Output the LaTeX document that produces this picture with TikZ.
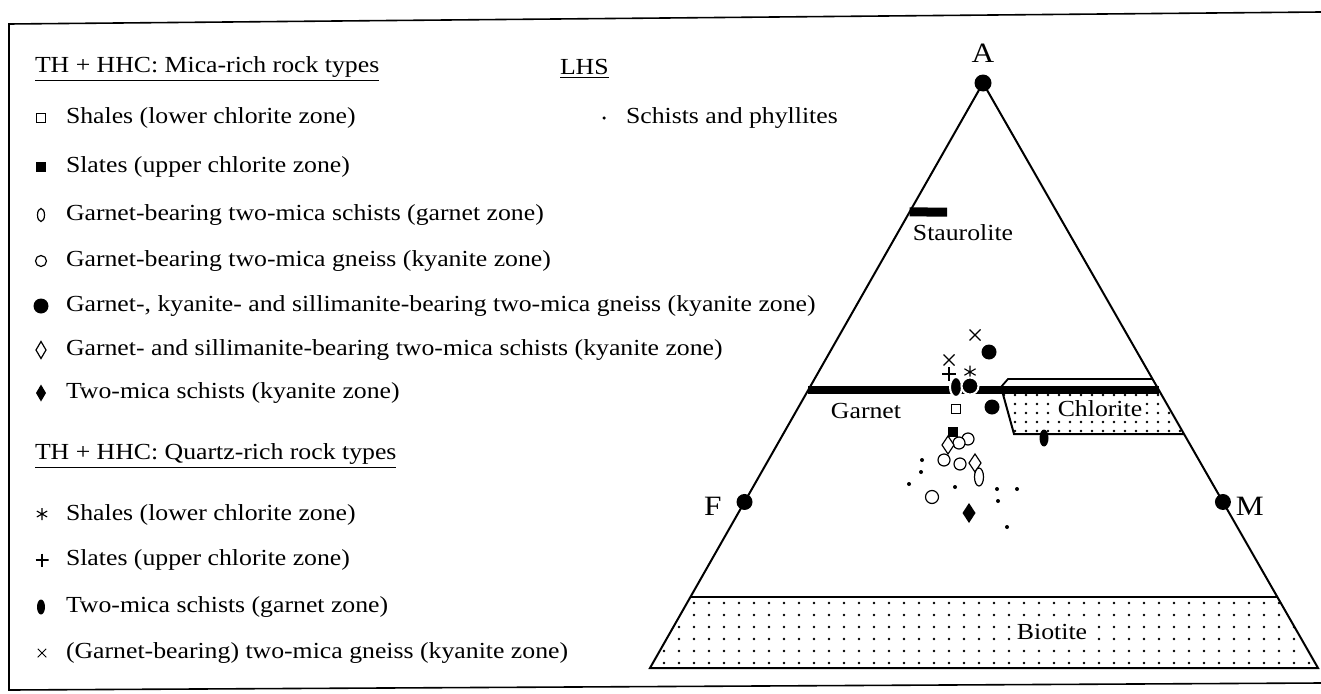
\documentclass[tikz,border=0pt]{standalone}
\usepackage{fontspec}
\setmainfont{Liberation Serif}[FakeStretch=1.12]
\usetikzlibrary{shapes.geometric,shapes.misc,calc}

\begin{document}
\begin{tikzpicture}[x=1pt, y=-1pt, font=\fontsize{23}{27}\selectfont, line join=miter,
	every node/.style={inner sep=0pt, outer sep=0pt},
	txt/.style={anchor=west},
	corner/.style={font=\fontsize{28}{30}\selectfont},
	zonelbl/.style={fill=white, inner sep=1.5pt},
	sqopen/.style={draw, rectangle, minimum size=9.5pt, line width=1pt, fill=white},
	sqfill/.style={draw, rectangle, minimum size=9.5pt, line width=1pt, fill=black},
	ellopen/.style={draw, ellipse, minimum width=7pt, minimum height=13pt, line width=1.2pt, fill=white},
	ellfill/.style={ellipse, minimum width=9pt, minimum height=17pt, fill=black},
	circopen/.style={draw, circle, minimum size=12pt, line width=1.2pt, fill=white},
	circfill/.style={circle, minimum size=15pt, fill=black},
	diaopen/.style={draw, diamond, minimum width=10pt, minimum height=17pt, line width=1.2pt, fill=white},
	diafill/.style={diamond, minimum width=11pt, minimum height=18pt, fill=black},
	halo/.style={draw=white, line width=2pt},
	tiny/.style={circle, minimum size=4pt, fill=black},
	crossm/.style={cross out, draw, line width=1.2pt, minimum size=#1},
	plusm/.style={minimum size=#1, path picture={
		\draw[line width=1.2pt] (path picture bounding box.north) -- (path picture bounding box.south)
			(path picture bounding box.west) -- (path picture bounding box.east);}},
	starm/.style={minimum size=2*#1, path picture={
		\draw[line width=1.1pt] ([shift={(90:#1)}]path picture bounding box.center) -- ([shift={(270:#1)}]path picture bounding box.center)
			([shift={(30:#1)}]path picture bounding box.center) -- ([shift={(210:#1)}]path picture bounding box.center)
			([shift={(150:#1)}]path picture bounding box.center) -- ([shift={(330:#1)}]path picture bounding box.center);}}]

	\useasboundingbox (0,0) rectangle (1321,693);

	% Rahmen
	\draw[line width=1.6pt] (1321,12) -- (9,24) -- (9,690) -- (1321,683);

	% Legende: glimmerreiche Gesteine
	\node[txt] (hdrMica) at (35,67) {TH + HHC: Mica-rich rock types};
	\draw[line width=1.2pt] ([yshift=-3pt]hdrMica.south west) -- ([yshift=-3pt]hdrMica.south east);
	\node[sqopen] (symShaleM) at (41,118) {};
	\node[txt] (txtShaleM) at (66,118) {Shales (lower chlorite zone)};
	\node[sqfill] (symSlateM) at (41,167) {};
	\node[txt] (txtSlateM) at (66,167) {Slates (upper chlorite zone)};
	\node[ellopen] (symGtSchist) at (41,215) {};
	\node[txt] (txtGtSchist) at (66,215) {Garnet-bearing two-mica schists (garnet zone)};
	\node[circopen, minimum size=11pt] (symGtGneiss) at (41,261) {};
	\node[txt] (txtGtGneiss) at (66,261) {Garnet-bearing two-mica gneiss (kyanite zone)};
	\node[circfill] (symKySil) at (41,306) {};
	\node[txt] (txtKySil) at (66,306) {Garnet-, kyanite- and sillimanite-bearing two-mica gneiss (kyanite zone)};
	\node[diaopen] (symSil) at (41,350) {};
	\node[txt] (txtSil) at (66,350) {Garnet- and sillimanite-bearing two-mica schists (kyanite zone)};
	\node[diafill, minimum width=10pt, minimum height=17pt] (symKySchist) at (41,393) {};
	\node[txt] (txtKySchist) at (66,393) {Two-mica schists (kyanite zone)};

	% Legende: quarzreiche Gesteine
	\node[txt] (hdrQtz) at (35,454) {TH + HHC: Quartz-rich rock types};
	\draw[line width=1.2pt] ([yshift=-3pt]hdrQtz.south west) -- ([yshift=-3pt]hdrQtz.south east);
	\node[starm=6pt] (symShaleQ) at (42,514) {};
	\node[txt] (txtShaleQ) at (66,515) {Shales (lower chlorite zone)};
	\node[plusm=13pt] (symSlateQ) at (42,560) {};
	\node[txt] (txtSlateQ) at (66,560) {Slates (upper chlorite zone)};
	\node[ellfill, minimum width=8pt, minimum height=15pt] (symGtSchistQ) at (41,607) {};
	\node[txt] (txtGtSchistQ) at (66,607) {Two-mica schists (garnet zone)};
	\node[crossm=8.5pt, line width=1pt] (symGneissQ) at (42,653) {};
	\node[txt] (txtGneissQ) at (66,653) {(Garnet-bearing) two-mica gneiss (kyanite zone)};

	% Legende: LHS
	\node[txt] (hdrLHS) at (560,67) {LHS};
	\draw[line width=1.2pt] ([yshift=-3pt]hdrLHS.south west) -- ([yshift=-3pt]hdrLHS.south east);
	\node[tiny, minimum size=3.5pt] (symLHS) at (604,118) {};
	\node[txt] (txtLHS) at (626,118) {Schists and phyllites};

	% Dreieck
	\coordinate (apexA) at (983,83);
	\coordinate (baseL) at (650,668);
	\coordinate (baseR) at (1318,668);

	% Biotit-Feld
	\begin{scope}
		\clip ($(apexA)!0.8786!(baseL)$) -- ($(apexA)!0.8786!(baseR)$) -- (baseR) -- (baseL) -- cycle;
		\foreach \x in {604,619,...,1330}
			\foreach \y in {603,615,...,666}
				\fill (\x,\y) circle (1.4);
	\end{scope}
	\draw[line width=2pt] ($(apexA)!0.8786!(baseL)$) -- ($(apexA)!0.8786!(baseR)$);
	\node[zonelbl] (lblBio) at (1052,632) {Biotite};

	% Chlorit-Feld
	\coordinate (chlTL) at (1001,387);
	\coordinate (chlTop) at (1008,379);
	\coordinate (chlBL) at (1014,434);
	\begin{scope}
		\clip (chlTL) -- (chlTop) -- ($(apexA)!0.506!(baseR)$) -- ($(apexA)!0.6!(baseR)$) -- (chlBL) -- cycle;
		\foreach \x in {1004,1015,...,1190}
			\foreach \y in {395,404,...,432}
				\fill (\x,\y) circle (1.3);
	\end{scope}
	\draw[line width=1.8pt] (chlTL) -- (chlTop) -- ($(apexA)!0.506!(baseR)$);
	\draw[line width=2pt] (chlTL) -- (chlBL) -- ($(apexA)!0.6!(baseR)$);
	\node[zonelbl] (lblChl) at (1100,409) {Chlorite};

	% Granat- und Staurolith-Balken
	\draw[line width=8.5pt, line cap=butt] ($(apexA)!0.5248!(baseL)$) -- ($(apexA)!0.5248!(baseR)$);
	\coordinate (stEnd) at (947,212);
	\draw[line width=9pt, line cap=butt] ($(apexA)!0.2205!(baseL)$) -- (stEnd);
	\node (lblGrt) at (866,411) {Garnet};
	\node (lblSt) at (963,233) {Staurolite};

	% Dreiecksseiten und Ecken
	\draw[line width=2pt] (apexA) -- (baseL) -- (baseR) -- cycle;
	\node[circle, fill=black, minimum size=17pt] (dotA) at (apexA) {};
	\node[circle, fill=black, minimum size=16pt] (dotF) at ($(apexA)!0.7162!(baseL)$) {};
	\node[circle, fill=black, minimum size=16pt] (dotM) at ($(apexA)!0.7162!(baseR)$) {};
	\node[corner] (lblA) at (983,53) {A};
	\node[corner, anchor=east] (lblF) at ([xshift=-15pt,yshift=-4pt]dotF.west) {F};
	\node[corner, anchor=west] (lblM) at ([xshift=5pt,yshift=-4pt]dotM.east) {M};

	% Messpunkte
	\node[crossm=11pt] (p1) at (975,335) {};
	\node[circfill] (p2) at (989,352) {};
	\node[crossm=11pt] (p3) at (949,360) {};
	\node[plusm=14pt] (p4) at (949,374) {};
	\node[starm=6.5pt] (p5) at (970,372) {};
	\node[ellfill, halo, minimum width=12pt, minimum height=20pt, fill=black] (p6) at (956,387) {};
	\node[circfill, halo, minimum size=17pt] (p7) at (970,386) {};
	\node[sqopen] (p8) at (956,409) {};
	\node[circfill] (p9) at (992,407) {};
	\node[ellfill] (p10) at (1044,438) {};
	\node[sqfill] (p11) at (953,432) {};
	\node[circopen] (p12) at (968,439) {};
	\node[circopen] (p13) at (959,443) {};
	\node[diaopen, minimum width=12pt, minimum height=18pt] (p14) at (948,445) {};
	\node[circopen] (p15) at (944,460) {};
	\node[circopen] (p16) at (960,464) {};
	\node[diaopen, minimum width=12pt, minimum height=18pt] (p17) at (975,463) {};
	\node[ellopen, minimum width=9pt, minimum height=18pt] (p18) at (979,477) {};
	\node[circopen, minimum size=13pt] (p19) at (932,497) {};
	\node[diafill, minimum width=13pt, minimum height=20pt] (p20) at (969,513) {};
	\node[tiny] (d1) at (922,460) {};
	\node[tiny] (d2) at (921,472) {};
	\node[tiny] (d3) at (909,484) {};
	\node[tiny] (d4) at (955,487) {};
	\node[tiny] (d5) at (997,489) {};
	\node[tiny] (d6) at (1017,489) {};
	\node[tiny] (d7) at (998,501) {};
	\node[tiny] (d8) at (1007,527) {};

\end{tikzpicture}
\end{document}
